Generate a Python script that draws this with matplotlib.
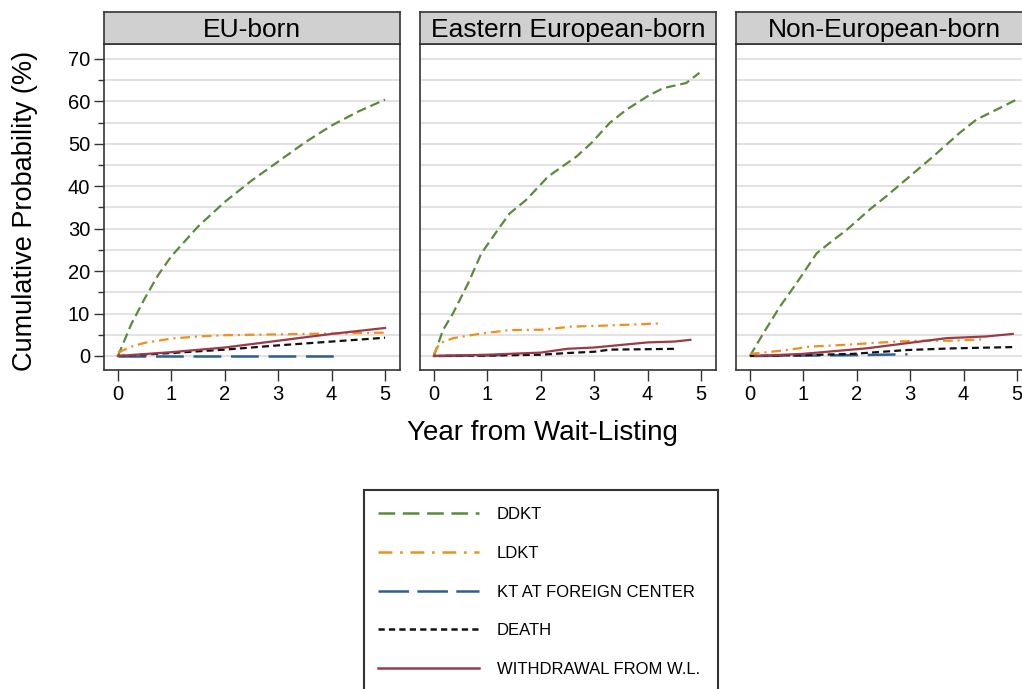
import matplotlib
matplotlib.use("Agg")
import matplotlib.pyplot as plt
from matplotlib.lines import Line2D

plt.rcParams['font.family'] = ['Liberation Sans', 'DejaVu Sans']
plt.rcParams['lines.scale_dashes'] = False

panels = ['EU-born', 'Eastern European-born', 'Non-European-born']
outcomes = ['DDKT', 'LDKT', 'KT AT FOREIGN CENTER', 'DEATH', 'WITHDRAWAL FROM W.L.']

# EU-born
eu_ddkt_x = [0, 0.25, 0.5, 0.75, 1, 1.5, 2, 2.5, 3, 3.5, 4, 4.5, 5]
eu_ddkt_y = [0, 7.5, 13.5, 19, 23.5, 30.5, 36.3, 41.3, 45.8, 50.3, 54.3, 57.6, 60.4]
eu_ldkt_x = [0, 0.25, 0.5, 1, 1.5, 2, 3, 4, 5]
eu_ldkt_y = [0.8, 2.2, 3.1, 4.1, 4.6, 4.9, 5.1, 5.3, 5.5]
eu_kt_x = [0, 4.1]
eu_kt_y = [0, 0]
eu_death_x = [0, 1, 2, 3, 4, 5]
eu_death_y = [0, 0.7, 1.5, 2.5, 3.4, 4.3]
eu_wd_x = [0, 1, 2, 3, 4, 5]
eu_wd_y = [0, 0.9, 2.0, 3.6, 5.2, 6.6]

# Eastern European-born
ee_ddkt_x = [0, 0.17, 0.36, 0.64, 0.89, 1.24, 1.42, 1.73, 2.14, 2.67, 2.95, 3.29, 3.6, 4.0, 4.29, 4.72, 4.97]
ee_ddkt_y = [0, 6.1, 10.1, 17.1, 24.2, 30.5, 33.6, 36.8, 42.3, 47.0, 50.2, 54.9, 58.0, 61.2, 63.1, 64.3, 66.7]
ee_ldkt_x = [0, 0.11, 0.36, 0.89, 1.42, 2.05, 2.55, 3.29, 3.9, 4.28]
ee_ldkt_y = [0.5, 3.0, 4.2, 5.3, 6.1, 6.2, 6.9, 7.2, 7.5, 7.7]
ee_kt_x = [0.1, 0.8, 1.6]
ee_kt_y = [0, 0.1, 0.3]
ee_death_x = [0, 1, 2, 2.5, 3, 3.3, 4.0, 4.57]
ee_death_y = [0, 0.1, 0.3, 0.7, 1.0, 1.5, 1.6, 1.7]
ee_wd_x = [0, 1, 2, 2.5, 3, 3.5, 4, 4.5, 4.8]
ee_wd_y = [0, 0.3, 0.8, 1.7, 2.0, 2.6, 3.2, 3.4, 3.8]

# Non-European-born
ne_ddkt_x = [0, 0.25, 0.56, 0.87, 1.25, 1.53, 1.81, 2.27, 2.55, 2.99, 3.43, 3.92, 4.24, 4.61, 4.99]
ne_ddkt_y = [0, 5.3, 11.6, 17.1, 24.2, 27.0, 29.7, 34.8, 37.6, 42.3, 47.0, 52.5, 55.7, 58.0, 60.4]
ne_ldkt_x = [0, 0.25, 0.69, 1.12, 1.74, 2.24, 2.74, 3.18, 3.8, 4.33]
ne_ldkt_y = [0.5, 0.8, 1.4, 2.2, 2.6, 3.0, 3.4, 3.6, 3.6, 3.9]
ne_kt_x = [0.1, 1.0, 2.0, 2.95]
ne_kt_y = [0, 0.1, 0.2, 0.4]
ne_death_x = [0, 1.0, 1.93, 2.93, 3.8, 4.92]
ne_death_y = [0, 0.2, 0.5, 1.4, 1.8, 2.1]
ne_wd_x = [0.1, 0.99, 2.18, 2.93, 3.68, 4.42, 4.92]
ne_wd_y = [0, 0.5, 1.8, 3.0, 4.2, 4.6, 5.2]

data = [
    [(eu_ddkt_x, eu_ddkt_y), (eu_ldkt_x, eu_ldkt_y), (eu_kt_x, eu_kt_y), (eu_death_x, eu_death_y), (eu_wd_x, eu_wd_y)],
    [(ee_ddkt_x, ee_ddkt_y), (ee_ldkt_x, ee_ldkt_y), (ee_kt_x, ee_kt_y), (ee_death_x, ee_death_y), (ee_wd_x, ee_wd_y)],
    [(ne_ddkt_x, ne_ddkt_y), (ne_ldkt_x, ne_ldkt_y), (ne_kt_x, ne_kt_y), (ne_death_x, ne_death_y), (ne_wd_x, ne_wd_y)],
]

colors = ['#5b8a3c', '#f0901c', '#2e5f8e', '#111111', '#9c3a48']
plot_dash = [(0, (7, 3.5)), (0, (7, 3.5, 1.5, 3.5)), (0, (20, 7)), (0, (5, 3)), 'solid']
leg_dash = [(0, (12, 5.5)), (0, (10, 5.5, 2, 5.5)), (0, (22, 6)), (0, (4.5, 3)), 'solid']
lws = [1.6, 1.6, 1.8, 1.6, 1.6]

fig = plt.figure(figsize=(10.22, 6.89), dpi=100)
W, H = 1022, 689
lefts = [104, 420, 736]
pw = 296
top, bottom = 44, 370
frame_col = '#333333'

for i, name in enumerate(panels):
    ax = fig.add_axes([lefts[i] / W, 1 - bottom / H, pw / W, (bottom - top) / H])
    for y in range(0, 75, 5):
        ax.axhline(y, color='#e2e2e2', lw=1.5, zorder=0)
    for k in range(5):
        xs, ys = data[i][k]
        ax.plot(xs, ys, color=colors[k], linestyle=plot_dash[k], lw=lws[k], zorder=2 + (k == 4))
    ax.set_xlim(-0.26, 5.28)
    ax.set_ylim(-3.3, 73.5)
    ax.set_xticks(range(6))
    ax.tick_params(axis='x', length=8, width=1, pad=3, labelsize=14.5, colors=frame_col, labelcolor='black')
    if i == 0:
        ax.set_yticks(range(0, 80, 10))
        ax.set_yticks(range(5, 75, 10), minor=True)
        ax.tick_params(axis='y', which='major', length=7, width=1, pad=3, labelsize=14.5, colors=frame_col, labelcolor='black')
        ax.tick_params(axis='y', which='minor', length=4, width=1, colors=frame_col)
    else:
        ax.set_yticks([])
    for s in ax.spines.values():
        s.set_color(frame_col)
        s.set_linewidth(1.2)
    hx = fig.add_axes([lefts[i] / W, 1 - top / H, pw / W, 32 / H])
    hx.set_facecolor('#d0d0d0')
    hx.set_xticks([])
    hx.set_yticks([])
    for s in hx.spines.values():
        s.set_color(frame_col)
        s.set_linewidth(1.2)
    hx.text(0.5, 0.45, name, ha='center', va='center', fontsize=19, transform=hx.transAxes)

fig.text(25 / W, 1 - 211 / H, 'Cumulative Probability (%)', rotation=90, ha='center', va='center', fontsize=19.5)
fig.text(542 / W, 1 - 433 / H, 'Year from Wait-Listing', ha='center', va='center', fontsize=20)

# legend box
lx = fig.add_axes([364 / W, -0.05, 354 / W, (689 - 490) / H + 0.05])
lx.set_xticks([])
lx.set_yticks([])
for s in lx.spines.values():
    s.set_color(frame_col)
    s.set_linewidth(1.5)
handles = [Line2D([], [], color=colors[k], linestyle=leg_dash[k], lw=1.8) for k in range(5)]
lx.legend(handles, outcomes, loc='upper left', bbox_to_anchor=(0.02, 0.955), frameon=False,
          fontsize=12, handlelength=6.1, handletextpad=1.05, labelspacing=1.42, borderaxespad=0)

fig.savefig('out.png', dpi=100)
